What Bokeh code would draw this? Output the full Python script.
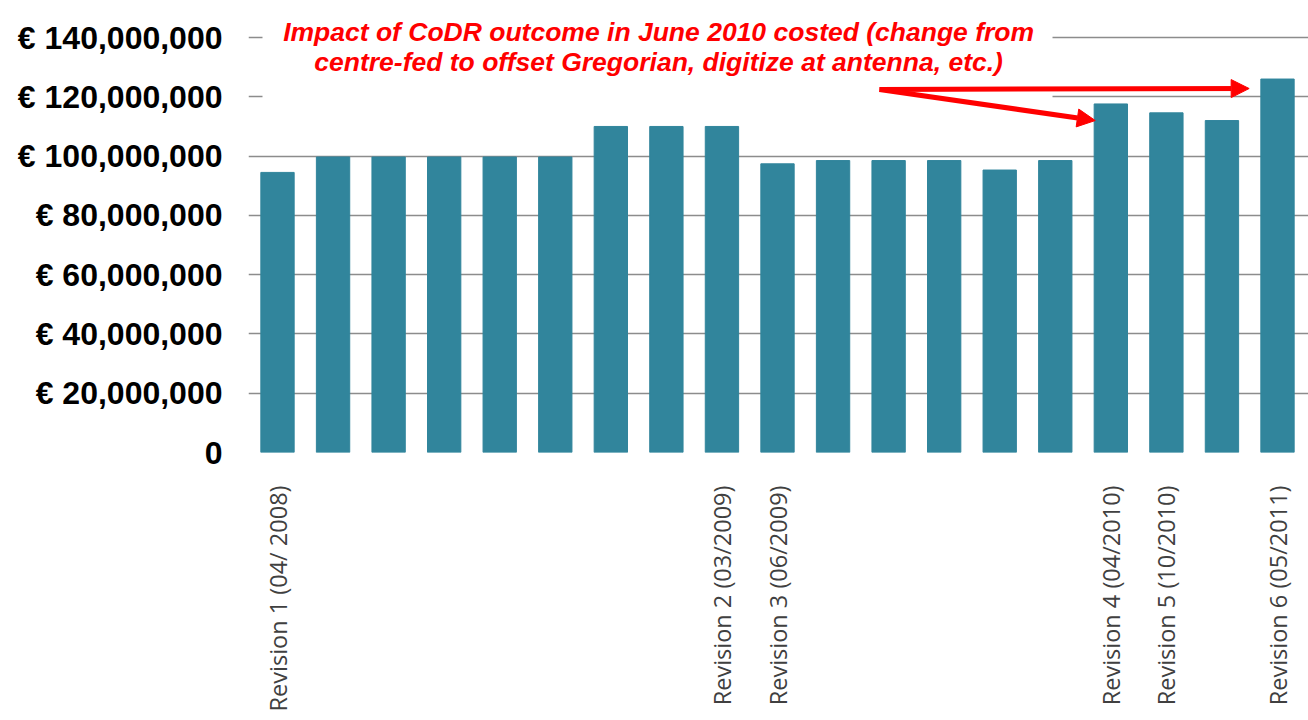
import math
from bokeh.plotting import figure
from bokeh.models import FixedTicker, Label, Arrow, NormalHead, BoxAnnotation
from bokeh.embed import file_html
from bokeh.resources import INLINE

# ---- data ----
positions = list(range(1, 20))
costs = [94.5e6, 99.7e6, 99.7e6, 99.7e6, 99.7e6, 99.7e6,
         110.0e6, 110.0e6, 110.0e6, 97.4e6, 98.5e6, 98.5e6,
         98.5e6, 95.3e6, 98.5e6, 117.6e6, 114.6e6, 112.0e6, 126.0e6]
x_labels = ["Revision 1 (04/ 2008)", "", "", "", "", "", "", "",
            "Revision 2 (03/2009)", "Revision 3 (06/2009)", "", "", "", "", "",
            "Revision 4 (04/2010)", "Revision 5 (10/2010)", "", "Revision 6 (05/2011)"]
y_ticks = [0, 20000000, 40000000, 60000000, 80000000, 100000000, 120000000, 140000000]
y_tick_labels = ["0", "€ 20,000,000", "€ 40,000,000", "€ 60,000,000", "€ 80,000,000",
                 "€ 100,000,000", "€ 120,000,000", "€ 140,000,000"]
note_lines = ["Impact of CoDR outcome in June 2010 costed (change from",
              "centre-fed to offset Gregorian, digitize at antenna, etc.)"]

p = figure(width=1308, height=720, x_range=(0.478, 19.558), y_range=(0, 152.5e6),
           output_backend="svg", toolbar_location=None,
           min_border_left=248, min_border_right=0, min_border_top=0, min_border_bottom=268)
p.outline_line_color = None
p.background_fill_color = "white"

p.vbar(x=positions, top=costs, width=0.6, fill_color="#31859C", line_color="#31859C")

# y axis
p.yaxis.ticker = FixedTicker(ticks=y_ticks)
p.yaxis.major_label_overrides = {t: l for t, l in zip(y_ticks, y_tick_labels)}
p.yaxis.major_label_text_font = "Liberation Sans"
p.yaxis.major_label_text_font_style = "bold"
p.yaxis.major_label_text_font_size = "32px"
p.yaxis.major_label_text_color = "black"
p.yaxis.axis_line_color = None
p.yaxis.major_tick_line_color = None
p.yaxis.minor_tick_line_color = None
p.yaxis.major_tick_out = 0
p.yaxis.major_tick_in = 0
p.yaxis.major_label_standoff = 26

# x axis
p.xaxis.ticker = FixedTicker(ticks=positions)
p.xaxis.major_label_overrides = {i: l for i, l in zip(positions, x_labels)}
p.xaxis.major_label_orientation = math.pi / 2
p.xaxis.major_label_text_font = "Open Sans"
p.xaxis.major_label_text_font_size = "23.5px"
p.xaxis.major_label_text_color = "#404040"
p.xaxis.axis_line_color = None
p.xaxis.major_tick_line_color = None
p.xaxis.minor_tick_line_color = None
p.xaxis.major_tick_out = 0
p.xaxis.major_tick_in = 0
p.xaxis.major_label_standoff = 33

# grid
p.xgrid.visible = False
p.ygrid.ticker = FixedTicker(ticks=y_ticks)
p.ygrid.grid_line_color = "#8c8c8c"
p.ygrid.grid_line_width = 1.5

# white box behind annotation text
p.add_layout(BoxAnnotation(left=0.73, right=14.95, bottom=117.4e6, top=170e6,
                           fill_color="white", fill_alpha=1.0, line_color=None))

for txt, yy in zip(note_lines, [142.0e6, 131.9e6]):
    p.add_layout(Label(x=7.86, y=yy, text=txt, text_align="center", text_baseline="middle",
                       text_font="Liberation Sans", text_font_style="bold italic",
                       text_font_size="26.5px", text_color="#FF0000"))

for xe, ye in [(18.49, 122.8e6), (15.72, 112.0e6)]:
    p.add_layout(Arrow(x_start=11.835, y_start=122.5e6, x_end=xe, y_end=ye,
                       line_color="#FF0000", line_width=5,
                       end=NormalHead(size=18, fill_color="#FF0000", line_color="#FF0000")))

open("out.html", "w").write(file_html(p, INLINE))
